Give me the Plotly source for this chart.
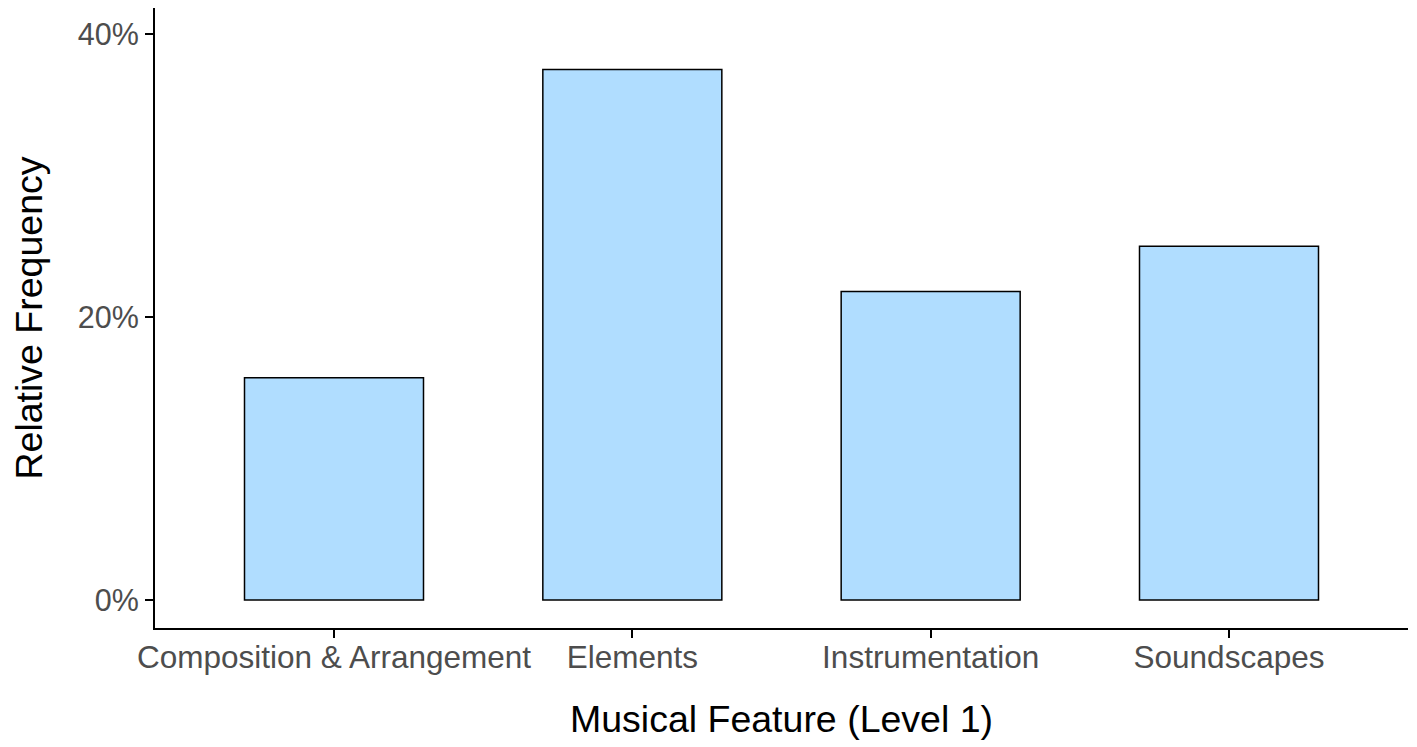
import plotly.graph_objects as go

categories = ["Composition & Arrangement", "Elements", "Instrumentation", "Soundscapes"]
values = [15.7, 37.5, 21.8, 25.0]
y_ticks = [0, 20, 40]
y_tick_labels = ["0%", "20%", "40%"]

fig = go.Figure(
    go.Bar(
        x=categories,
        y=values,
        width=0.6,
        marker=dict(color="#b0ddff", line=dict(color="black", width=1.5)),
    )
)

font_family = "Liberation Sans, Arial, Helvetica, sans-serif"

# page body has an 8px margin, so margins compensate for that offset
fig.update_layout(
    width=1417,
    height=747,
    margin=dict(l=147, r=17, t=0, b=127),
    paper_bgcolor="white",
    plot_bgcolor="white",
    showlegend=False,
    font=dict(family=font_family, color="black"),
)

fig.update_xaxes(
    type="category",
    range=[-0.6, 3.6],
    automargin=False,
    showline=True,
    linecolor="black",
    linewidth=2,
    ticks="outside",
    ticklen=8,
    tickwidth=2,
    tickcolor="black",
    ticklabelstandoff=-8,
    showgrid=False,
    zeroline=False,
    tickfont=dict(size=31.5, color="#4d4d4d", family=font_family),
    title=dict(text="Musical Feature (Level 1)", font=dict(size=37.5, color="black"), standoff=32),
)

fig.update_yaxes(
    range=[-1.98, 41.84],
    automargin=False,
    tickvals=y_ticks,
    ticktext=y_tick_labels,
    showline=True,
    linecolor="black",
    linewidth=2,
    ticks="outside",
    ticklen=8,
    tickwidth=2,
    tickcolor="black",
    ticklabelstandoff=0,
    showgrid=False,
    zeroline=False,
    tickfont=dict(size=30.5, color="#4d4d4d", family=font_family),
    title=dict(text="Relative Frequency", font=dict(size=37.5, color="black"), standoff=46),
)

fig.write_html("out.html")
